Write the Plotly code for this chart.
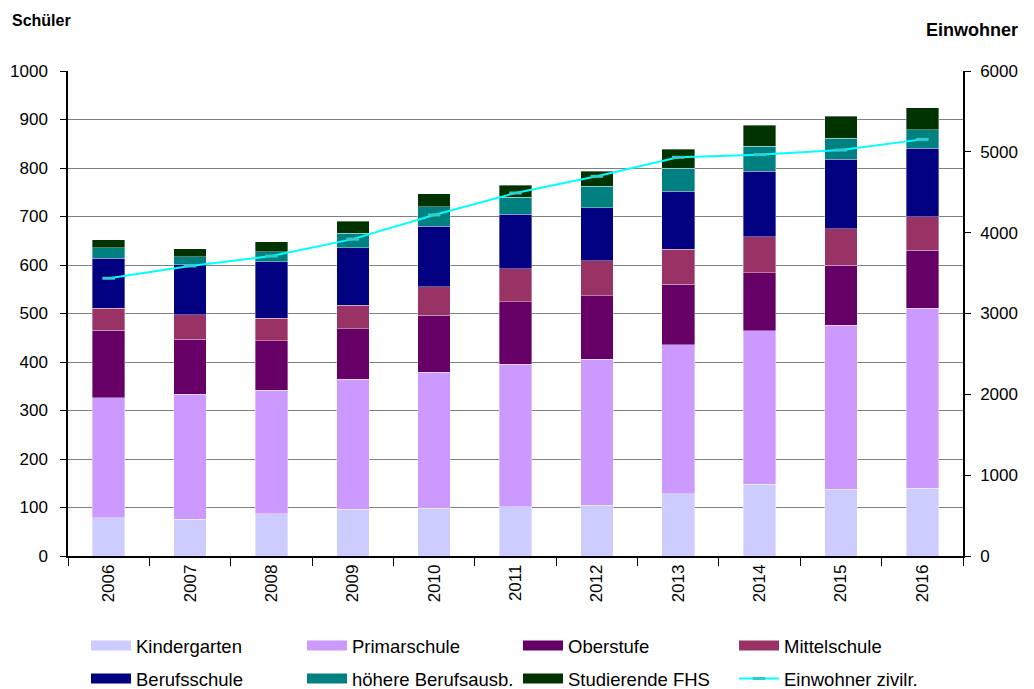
import plotly.graph_objects as go

years = ["2006", "2007", "2008", "2009", "2010", "2011", "2012", "2013", "2014", "2015", "2016"]

kindergarten = [79, 76, 87, 96, 98, 102, 105, 128, 148, 138, 140]
primarschule = [247, 258, 255, 268, 281, 293, 301, 308, 316, 338, 371]
oberstufe = [139, 113, 102, 105, 117, 129, 131, 124, 120, 124, 119]
mittelschule = [46, 50, 46, 48, 59, 68, 72, 73, 74, 75, 70]
berufsschule = [103, 104, 117, 119, 125, 113, 109, 119, 135, 143, 141]
hoehere = [22, 16, 20, 29, 40, 35, 44, 47, 52, 43, 38]
fhs = [16, 17, 21, 25, 27, 24, 31, 40, 43, 46, 45]
einwohner = [3436, 3588, 3711, 3920, 4219, 4491, 4697, 4932, 4965, 5022, 5154]

series = [
    ("Kindergarten", kindergarten, "#CCCCFF"),
    ("Primarschule", primarschule, "#CC99FF"),
    ("Oberstufe", oberstufe, "#660066"),
    ("Mittelschule", mittelschule, "#993366"),
    ("Berufsschule", berufsschule, "#000080"),
    ("höhere Berufsausb.", hoehere, "#008080"),
    ("Studierende FHS", fhs, "#003300"),
]

FONT = "Liberation Sans, Arial, sans-serif"

fig = go.Figure()
for i, (name, vals, col) in enumerate(series):
    lg = "legend" if i < 4 else "legend2"
    fig.add_trace(go.Bar(
        x=years, y=vals, name=name, legendgroup=name, showlegend=False,
        marker=dict(color=col, line=dict(color="rgba(255,255,255,0.6)", width=0.6)),
    ))
    # legend swatch (wide rectangle like the original)
    fig.add_trace(go.Scatter(
        x=[None], y=[None], name=name, legendgroup=name, legend=lg,
        mode="lines", line=dict(color=col, width=10), hoverinfo="skip",
    ))

fig.add_trace(go.Scatter(
    x=years, y=einwohner, name="Einwohner zivilr.", yaxis="y2", legend="legend2",
    mode="lines+markers",
    line=dict(color="#00FFFF", width=2),
    marker=dict(symbol="line-ew-open", size=9, color="#33CCCC",
                line=dict(color="#33CCCC", width=3)),
))

W, H = 1026, 681
legend_common = dict(
    orientation="h", xref="container", yref="container",
    x=78 / W, xanchor="left", yanchor="top",
    entrywidth=161, font=dict(size=18.5), traceorder="normal",
    itemwidth=40, bgcolor="rgba(0,0,0,0)",
)

fig.update_layout(
    width=W, height=H,
    barmode="stack", bargap=0.6,
    plot_bgcolor="white", paper_bgcolor="white",
    font=dict(family=FONT, size=17, color="black"),
    margin=dict(l=60, r=71, t=63, b=133, autoexpand=False),
    xaxis=dict(
        type="category", range=[-0.5, len(years) - 0.5],
        showline=True, linecolor="black", linewidth=1.5,
        ticks="outside", tickson="boundaries", ticklen=8, tickcolor="black",
        tickangle=-90, showgrid=False, tickfont=dict(size=17), automargin=False,
    ),
    yaxis=dict(
        range=[0, 1000], dtick=100, showline=True, linecolor="black", linewidth=1.5,
        ticks="outside", ticklen=6, tickcolor="black", ticklabelstandoff=9,
        showgrid=True, gridcolor="#808080", gridwidth=1, zeroline=False,
        tickfont=dict(size=17), automargin=False,
    ),
    yaxis2=dict(
        range=[0, 6000], dtick=1000, overlaying="y", side="right",
        showline=True, linecolor="black", linewidth=1.5,
        ticks="outside", ticklen=6, tickcolor="black", ticklabelstandoff=6,
        showgrid=False, zeroline=False, tickfont=dict(size=17), automargin=False,
    ),
    legend=dict(legend_common, y=1 - 619 / H),
    legend2=dict(legend_common, y=1 - 652 / H),
    annotations=[
        dict(text="<b>Schüler</b>", xref="paper", yref="paper", x=-0.0648, y=1.105,
             xanchor="left", yanchor="middle", showarrow=False, font=dict(size=16)),
        dict(text="<b>Einwohner</b>", xref="paper", yref="paper", x=1.0637, y=1.0845,
             xanchor="right", yanchor="middle", showarrow=False, font=dict(size=18)),
    ],
)

fig.write_html("out.html")
